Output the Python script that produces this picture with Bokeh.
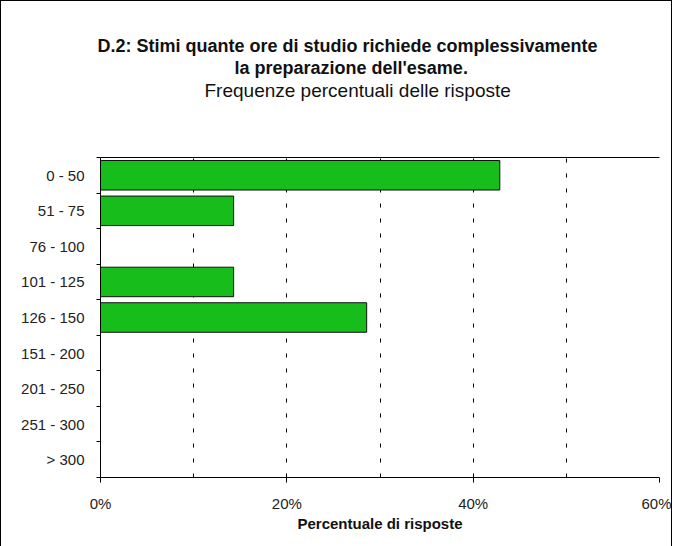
from bokeh.plotting import figure
from bokeh.models import (Range1d, FixedTicker, LinearAxis, Title, ColumnDataSource,
                          PrintfTickFormatter)
from bokeh.embed import file_html
from bokeh.resources import INLINE

# ---- data ----
categories = ["0 - 50", "51 - 75", "76 - 100", "101 - 125", "126 - 150",
              "151 - 200", "201 - 250", "251 - 300", "> 300"]
percentages = [42.86, 14.29, 0.0, 14.29, 28.57, 0.0, 0.0, 0.0, 0.0]
x_ticks = [0, 20, 40, 60]
grid_ticks = [10, 20, 30, 40, 50, 60]
title_line1 = "D.2: Stimi quante ore di studio richiede complessivamente"
title_line2 = "la preparazione dell'esame."
subtitle = "Frequenze percentuali delle risposte"
x_label = "Percentuale di risposte"

# ---- layout constants ----
FRAME_W, FRAME_H = 559, 320
X_MAX = 60
n = len(categories)
FONT = "Liberation Sans"

# category centres (top category first)
ypos = [n - 0.5 - i for i in range(n)]
src = ColumnDataSource(dict(y=ypos, right=percentages, cat=categories))

p = figure(frame_width=FRAME_W, frame_height=FRAME_H,
           x_range=Range1d(0, X_MAX), y_range=Range1d(0, n),
           output_backend="svg", toolbar_location=None,
           min_border_left=99, min_border_right=12,
           min_border_top=156, min_border_bottom=69,
           background_fill_color="white", border_fill_color="white",
           outline_line_color=None)
p.styles = {"border-top": "1px solid black", "border-left": "1px solid black",
            "border-right": "1px solid black"}

p.hbar(y="y", right="right", left=0, height=0.83, source=src,
       fill_color="#17BE1B", line_color="#111111", line_width=1)

# x axis
xa = p.xaxis[0]
xa.ticker = FixedTicker(ticks=x_ticks)
xa.formatter = PrintfTickFormatter(format="%d%%")
xa.major_tick_out = 5
xa.major_tick_in = 0
xa.minor_tick_line_color = None
xa.axis_line_color = "black"
xa.major_label_text_font = FONT
xa.major_label_text_font_size = "15px"
xa.major_label_text_color = "#222222"
xa.major_label_standoff = 12
xa.axis_label = x_label
xa.axis_label_text_font = FONT
xa.axis_label_text_font_style = "bold"
xa.axis_label_text_font_size = "15px"
xa.axis_label_standoff = 0
xa.axis_label_text_color = "#111111"

# y axis: labels at centres, ticks at boundaries (minor)
ya = p.yaxis[0]
ya.ticker = FixedTicker(ticks=ypos, minor_ticks=list(range(n + 1)))
ya.major_label_overrides = {y: c for y, c in zip(ypos, categories)}
ya.major_tick_line_color = None
ya.major_tick_out = 0
ya.major_tick_in = 0
ya.minor_tick_out = 4
ya.minor_tick_in = 0
ya.minor_tick_line_color = "black"
ya.axis_line_color = "black"
ya.major_label_text_font = FONT
ya.major_label_text_font_size = "15px"
ya.major_label_text_color = "#222222"
ya.major_label_standoff = 12

# top line of the frame; its (white, invisible) tick reserves the gap below the titles
top = LinearAxis(ticker=FixedTicker(ticks=[0]), major_tick_out=57, major_tick_in=0,
                 major_tick_line_color="white",
                 minor_tick_out=0, minor_tick_in=0,
                 major_label_overrides={0: ""}, major_label_text_font_size="1px",
                 major_label_standoff=0, axis_line_color="black")
p.add_layout(top, "above")

# grid
p.ygrid.grid_line_color = None
p.xgrid.ticker = FixedTicker(ticks=grid_ticks)
p.xgrid.grid_line_color = "black"
p.xgrid.grid_line_dash = "4 11"
p.xgrid.grid_line_width = 1

# titles (stacked outward from the frame), left-aligned with pixel offsets
for txt, style, size, off in [(subtitle, "normal", "19px", 104),
                              (title_line2, "bold", "18px", 134),
                              (title_line1, "bold", "18px", -3)]:
    p.add_layout(Title(text=txt, align="left", offset=off, standoff=0,
                       text_font=FONT, text_font_style=style,
                       text_font_size=size, text_color="#111111"), "above")

open("out.html", "w").write(file_html(p, INLINE))
